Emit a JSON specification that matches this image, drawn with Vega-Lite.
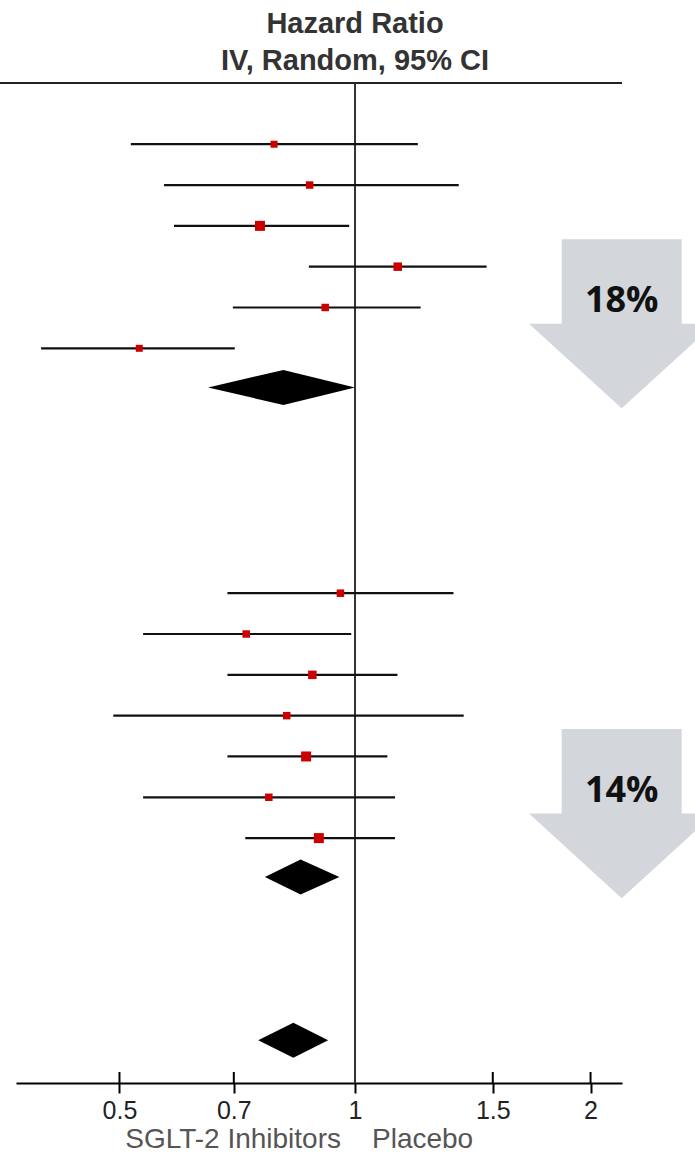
{
  "$schema": "https://vega.github.io/schema/vega-lite/v6.json",
  "width": 606,
  "height": 1000,
  "autosize": {"type": "none"},
  "padding": {"left": 16, "top": 83, "right": 73, "bottom": 76},
  "background": "white",
  "config": {
    "view": {"stroke": null},
    "axisX": {
      "domain": true, "domainColor": "#000", "domainWidth": 2,
      "ticks": true, "tickColor": "#000", "tickWidth": 2, "tickSize": 10,
      "labelFont": "Liberation Sans", "labelFontSize": 25, "labelColor": "#222",
      "labelPadding": 5, "grid": false, "labelFlush": false, "labelOverlap": false
    }
  },
  "datasets": {
    "studies": [
      {"group": "A", "row": 0, "hr": 0.788, "lo": 0.517, "hi": 1.203, "weight": 49},
      {"group": "A", "row": 1, "hr": 0.875, "lo": 0.570, "hi": 1.357, "weight": 56},
      {"group": "A", "row": 2, "hr": 0.756, "lo": 0.587, "hi": 0.983, "weight": 100},
      {"group": "A", "row": 3, "hr": 1.134, "lo": 0.873, "hi": 1.473, "weight": 72},
      {"group": "A", "row": 4, "hr": 0.916, "lo": 0.698, "hi": 1.213, "weight": 56},
      {"group": "A", "row": 5, "hr": 0.530, "lo": 0.397, "hi": 0.702, "weight": 49},
      {"group": "B", "row": 11, "hr": 0.958, "lo": 0.687, "hi": 1.336, "weight": 56},
      {"group": "B", "row": 12, "hr": 0.726, "lo": 0.536, "hi": 0.989, "weight": 56},
      {"group": "B", "row": 13, "hr": 0.882, "lo": 0.687, "hi": 1.133, "weight": 72},
      {"group": "B", "row": 14, "hr": 0.818, "lo": 0.491, "hi": 1.377, "weight": 56},
      {"group": "B", "row": 15, "hr": 0.866, "lo": 0.687, "hi": 1.100, "weight": 100},
      {"group": "B", "row": 16, "hr": 0.776, "lo": 0.536, "hi": 1.125, "weight": 56},
      {"group": "B", "row": 17, "hr": 0.899, "lo": 0.724, "hi": 1.125, "weight": 100}
    ],
    "pooled": [
      {"group": "A", "row": 5.96, "hr": 0.810, "lo": 0.649, "hi": 1.0},
      {"group": "B", "row": 17.95, "hr": 0.852, "lo": 0.767, "hi": 0.955},
      {"group": "All", "row": 21.95, "hr": 0.834, "lo": 0.752, "hi": 0.924}
    ],
    "innerTicks": [{"v": 0.5}, {"v": 0.7}, {"v": 1.5}, {"v": 2}],
    "arrows": [
      {"pct": "18%", "row": 4.4, "pos": 2.192},
      {"pct": "14%", "row": 16.4, "pos": 2.192}
    ],
    "one": [{}]
  },
  "layer": [
    {
      "data": {"name": "one"},
      "mark": {"type": "rule", "color": "#222", "strokeWidth": 2},
      "encoding": {
        "x": {"datum": 0.35, "type": "quantitative", "scale": {"type": "log", "domain": [0.36874, 2.194], "nice": false, "zero": false}, "axis": {"values": [0.5, 0.7, 1, 1.5, 2], "format": "~g", "title": null}},
        "x2": {"datum": 2.194},
        "y": {"datum": -1.5, "type": "quantitative", "scale": {"domain": [-1.5, 23], "reverse": true, "nice": false, "zero": false}, "axis": null}
      }
    },
    {
      "data": {"name": "one"},
      "mark": {"type": "rule", "color": "#333", "strokeWidth": 2},
      "encoding": {
        "x": {"datum": 1, "type": "quantitative", "scale": {"type": "log", "domain": [0.36874, 2.194], "nice": false, "zero": false}, "axis": {"values": [0.5, 0.7, 1, 1.5, 2], "format": "~g", "title": null}},
        "y": {"datum": -1.5, "type": "quantitative", "scale": {"domain": [-1.5, 23], "reverse": true, "nice": false, "zero": false}, "axis": null},
        "y2": {"datum": 23}
      }
    },
    {
      "data": {"name": "innerTicks"},
      "mark": {"type": "rule", "color": "#000", "strokeWidth": 2},
      "encoding": {
        "x": {"field": "v", "type": "quantitative", "scale": {"type": "log", "domain": [0.36874, 2.194], "nice": false, "zero": false}, "axis": {"values": [0.5, 0.7, 1, 1.5, 2], "format": "~g", "title": null}},
        "y": {"datum": 22.73, "type": "quantitative", "scale": {"domain": [-1.5, 23], "reverse": true, "nice": false, "zero": false}, "axis": null},
        "y2": {"datum": 23}
      }
    },
    {
      "data": {"name": "studies"},
      "mark": {"type": "rule", "color": "#111", "strokeWidth": 2.2},
      "encoding": {
        "x": {"field": "lo", "type": "quantitative", "scale": {"type": "log", "domain": [0.36874, 2.194], "nice": false, "zero": false}, "axis": {"values": [0.5, 0.7, 1, 1.5, 2], "format": "~g", "title": null}},
        "x2": {"field": "hi"},
        "y": {"field": "row", "type": "quantitative", "scale": {"domain": [-1.5, 23], "reverse": true, "nice": false, "zero": false}, "axis": null}
      }
    },
    {
      "data": {"name": "studies"},
      "mark": {"type": "square", "color": "#cc0000", "opacity": 1},
      "encoding": {
        "x": {"field": "hr", "type": "quantitative", "scale": {"type": "log", "domain": [0.36874, 2.194], "nice": false, "zero": false}, "axis": {"values": [0.5, 0.7, 1, 1.5, 2], "format": "~g", "title": null}},
        "y": {"field": "row", "type": "quantitative", "scale": {"domain": [-1.5, 23], "reverse": true, "nice": false, "zero": false}, "axis": null},
        "size": {"field": "weight", "type": "quantitative", "scale": null, "legend": null}
      }
    },
    {
      "data": {"name": "pooled"},
      "transform": [{"fold": ["lo", "hr", "hi"], "as": ["part", "val"]}],
      "mark": {"type": "area", "color": "#000", "opacity": 1, "yOffset": {"expr": "datum.part === 'hr' ? -17.5 : 0"}, "y2Offset": {"expr": "datum.part === 'hr' ? 17.5 : 0"}},
      "encoding": {
        "x": {"field": "val", "type": "quantitative", "scale": {"type": "log", "domain": [0.36874, 2.194], "nice": false, "zero": false}, "axis": {"values": [0.5, 0.7, 1, 1.5, 2], "format": "~g", "title": null}},
        "y": {"field": "row", "type": "quantitative", "scale": {"domain": [-1.5, 23], "reverse": true, "nice": false, "zero": false}, "axis": null},
        "y2": {"field": "row"},
        "detail": {"field": "group", "type": "nominal"}
      }
    },
    {
      "data": {"name": "arrows"},
      "mark": {"type": "point", "shape": "M-0.647,-0.912L0.647,-0.912L0.647,0L1,0L0,0.912L-1,0L-0.647,0Z", "filled": true, "color": "#d3d6db", "opacity": 1, "size": 34373, "strokeWidth": 0},
      "encoding": {
        "x": {"field": "pos", "type": "quantitative", "scale": {"type": "log", "domain": [0.36874, 2.194], "nice": false, "zero": false}, "axis": {"values": [0.5, 0.7, 1, 1.5, 2], "format": "~g", "title": null}},
        "y": {"field": "row", "type": "quantitative", "scale": {"domain": [-1.5, 23], "reverse": true, "nice": false, "zero": false}, "axis": null}
      }
    },
    {
      "data": {"name": "arrows"},
      "mark": {"type": "text", "font": "Open Sans", "fontWeight": "bold", "fontSize": 36, "color": "#111", "align": "center", "baseline": "alphabetic", "dy": -12},
      "encoding": {
        "x": {"field": "pos", "type": "quantitative", "scale": {"type": "log", "domain": [0.36874, 2.194], "nice": false, "zero": false}, "axis": {"values": [0.5, 0.7, 1, 1.5, 2], "format": "~g", "title": null}},
        "y": {"field": "row", "type": "quantitative", "scale": {"domain": [-1.5, 23], "reverse": true, "nice": false, "zero": false}, "axis": null},
        "text": {"field": "pct"}
      }
    },
    {
      "data": {"name": "one"},
      "mark": {"type": "text", "text": ["Hazard Ratio", "IV, Random, 95% CI"], "font": "Liberation Sans", "fontWeight": "bold", "fontSize": 29, "color": "#333", "align": "center", "baseline": "alphabetic", "lineHeight": 36.7, "dy": -49.7},
      "encoding": {
        "x": {"datum": 1, "type": "quantitative", "scale": {"type": "log", "domain": [0.36874, 2.194], "nice": false, "zero": false}, "axis": {"values": [0.5, 0.7, 1, 1.5, 2], "format": "~g", "title": null}},
        "y": {"datum": -1.5, "type": "quantitative", "scale": {"domain": [-1.5, 23], "reverse": true, "nice": false, "zero": false}, "axis": null}
      }
    },
    {
      "data": {"name": "one"},
      "mark": {"type": "text", "text": "SGLT-2 Inhibitors", "font": "Liberation Sans", "fontSize": 28, "color": "#555", "align": "right", "baseline": "alphabetic", "dx": -14, "dy": 65},
      "encoding": {
        "x": {"datum": 1, "type": "quantitative", "scale": {"type": "log", "domain": [0.36874, 2.194], "nice": false, "zero": false}, "axis": {"values": [0.5, 0.7, 1, 1.5, 2], "format": "~g", "title": null}},
        "y": {"datum": 23, "type": "quantitative", "scale": {"domain": [-1.5, 23], "reverse": true, "nice": false, "zero": false}, "axis": null}
      }
    },
    {
      "data": {"name": "one"},
      "mark": {"type": "text", "text": "Placebo", "font": "Liberation Sans", "fontSize": 28, "color": "#555", "align": "left", "baseline": "alphabetic", "dx": 17, "dy": 65},
      "encoding": {
        "x": {"datum": 1, "type": "quantitative", "scale": {"type": "log", "domain": [0.36874, 2.194], "nice": false, "zero": false}, "axis": {"values": [0.5, 0.7, 1, 1.5, 2], "format": "~g", "title": null}},
        "y": {"datum": 23, "type": "quantitative", "scale": {"domain": [-1.5, 23], "reverse": true, "nice": false, "zero": false}, "axis": null}
      }
    }
  ]
}
